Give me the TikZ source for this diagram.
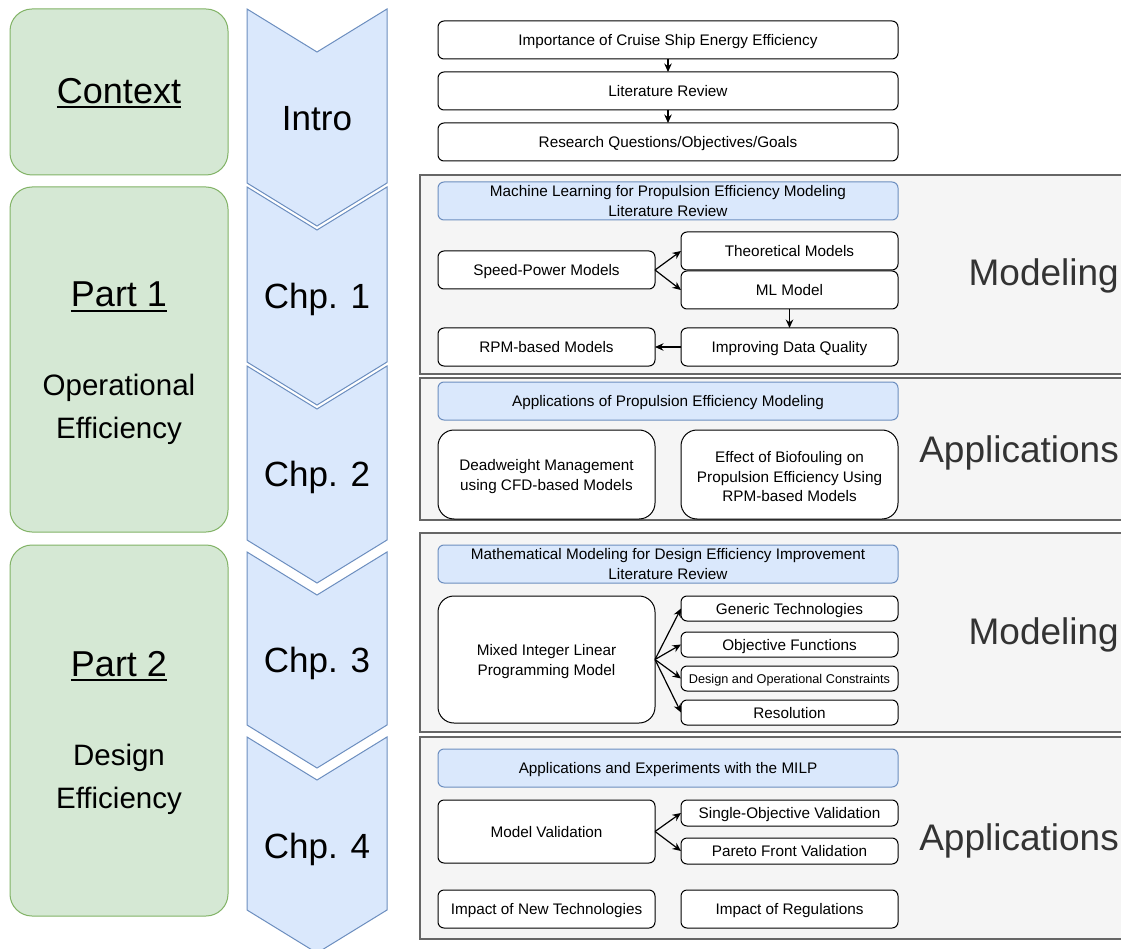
\documentclass[tikz,border=0pt]{standalone}
\usepackage{fontspec}
\setmainfont{Liberation Sans}
\usetikzlibrary{arrows.meta}
\definecolor{gfill}{HTML}{D5E8D4}
\definecolor{gdraw}{HTML}{82B366}
\definecolor{bfill}{HTML}{DAE8FC}
\definecolor{bdraw}{HTML}{6C8EBF}
\definecolor{pfill}{HTML}{F5F5F5}
\definecolor{pdraw}{HTML}{666666}
\definecolor{ltext}{HTML}{333333}
\newcommand{\mkbox}[7]{\node[#1, minimum width={(#4)-(#2)}, minimum height={(#5)-(#3)}] (#6) at ({((#2)+(#4))/2},{((#3)+(#5))/2}) {#7};}
\newcommand{\myul}[1]{\setbox0\hbox{#1}\rlap{\rule[-5pt]{\wd0}{2.2pt}}\box0}
\newcommand{\topstrut}{\rule{0pt}{15.5pt}}
\begin{document}
\begin{tikzpicture}[x=1pt,y=-1pt,
  base/.style={inner sep=0pt, outer sep=0pt, align=center, font=\fontsize{15.3}{19.5}\selectfont},
  one/.style={text height=14.5pt, text depth=3.5pt},
  wbox/.style={base, one, draw=black, fill=white, line width=1pt, rounded corners=6pt},
  rbox/.style={base, draw=black, fill=white, line width=1pt, rounded corners=16pt},
  hbox/.style={base, draw=bdraw, fill=bfill, line width=1pt, rounded corners=6pt},
  panel/.style={base, draw=pdraw, fill=pfill, line width=1.2pt},
  gbox/.style={base, draw=gdraw, fill=gfill, line width=1pt, rounded corners=22pt},
  chev/.style={draw=bdraw, fill=bfill, line width=1pt, line join=miter},
  chtext/.style={inner sep=0pt, font=\fontsize{35}{40}\selectfont},
  bigtext/.style={inner sep=0pt, text=ltext, font=\fontsize{37}{42}\selectfont, anchor=east},
  arr/.style={-{Stealth[length=8.5pt,width=7.5pt]}, line width=1.2pt, black}
]
\useasboundingbox (0,0) rectangle (1121,949);
\clip (0,0) rectangle (1121,949);
\fill[white] (0,0) rectangle (1121,949);

% green boxes
\mkbox{gbox}{10}{9}{228}{175}{ctx}{}
\mkbox{gbox}{10}{187}{228}{532}{pone}{}
\mkbox{gbox}{10}{545}{228}{916}{ptwo}{}
\node[inner sep=0pt, font=\fontsize{36}{40}\selectfont] (ctxt) at (119,93) {\myul{Context}};
\node[inner sep=0pt, font=\fontsize{36}{40}\selectfont] (ponet) at (119,297) {\myul{Part 1}};
\node[inner sep=0pt, align=center, font=\fontsize{29.5}{43}\selectfont] (ponet2) at (119,409) {Operational\\Efficiency};
\node[inner sep=0pt, font=\fontsize{36}{40}\selectfont] (ptwot) at (119,666) {\myul{Part 2}};
\node[inner sep=0pt, align=center, font=\fontsize{29.5}{43}\selectfont] (ptwot2) at (119,779.5) {Design\\Efficiency};

% chevrons
\draw[chev] (247,9) -- (317,52) -- (387,9) -- (387,183) -- (317,226) -- (247,183) -- cycle;
\draw[chev] (247,187) -- (317,230) -- (387,187) -- (387,362) -- (317,405) -- (247,362) -- cycle;
\draw[chev] (247,366) -- (317,409) -- (387,366) -- (387,540) -- (317,583) -- (247,540) -- cycle;
\draw[chev] (247,552) -- (317,595) -- (387,552) -- (387,725) -- (317,768) -- (247,725) -- cycle;
\draw[chev] (247,737) -- (317,780) -- (387,737) -- (387,910) -- (317,953) -- (247,910) -- cycle;
\node[chtext] (intro) at (317,119) {Intro};
\node[chtext] (chone) at (317,299) {Chp. 1};
\node[chtext] (chtwo) at (317,477) {Chp. 2};
\node[chtext] (chthree) at (317,663) {Chp. 3};
\node[chtext] (chfour) at (317,849) {Chp. 4};

% panels
\mkbox{panel}{420}{175}{1135}{374}{pa}{}
\mkbox{panel}{420}{378}{1135}{520}{pb}{}
\mkbox{panel}{420}{533}{1135}{732}{pc}{}
\mkbox{panel}{420}{737}{1135}{939}{pd}{}
\node[bigtext] (mod1) at (1119,276) {Modeling};
\node[bigtext] (app1) at (1119,453) {Applications};
\node[bigtext] (mod2) at (1119,635) {Modeling};
\node[bigtext] (app2) at (1119,841) {Applications};

% intro boxes
\mkbox{wbox}{438}{21}{898}{59}{i1}{Importance of Cruise Ship Energy Efficiency}
\mkbox{wbox}{438}{72}{898}{110}{i2}{Literature Review}
\mkbox{wbox}{438}{123}{898}{161}{i3}{Research Questions/Objectives/Goals}
\draw[arr] (i1.south) -- (i2.north);
\draw[arr] (i2.south) -- (i3.north);

% chapter 1
\mkbox{hbox}{438}{182}{898}{220}{h1}{Machine Learning for Propulsion Efficiency Modeling\\Literature Review}
\mkbox{wbox}{438}{251}{655}{289}{sp}{Speed-Power Models}
\mkbox{wbox}{681}{232}{898}{270}{th}{Theoretical Models}
\mkbox{wbox}{681}{271}{898}{309}{ml}{ML Model}
\mkbox{wbox}{438}{328}{655}{366}{rpm}{RPM-based Models}
\mkbox{wbox}{681}{328}{898}{366}{idq}{Improving Data Quality}
\draw[arr] (sp.east) -- (th.west);
\draw[arr] (sp.east) -- (ml.west);
\draw[arr] (ml.south) -- (idq.north);
\draw[arr] (idq.west) -- (rpm.east);

% chapter 2
\mkbox{hbox, one}{438}{382}{898}{420}{h2}{Applications of Propulsion Efficiency Modeling}
\mkbox{rbox}{438}{430}{655}{519}{dw}{\topstrut Deadweight Management\\using CFD-based Models}
\mkbox{rbox}{681}{430}{898}{519}{bio}{\topstrut Effect of Biofouling on\\Propulsion Efficiency Using\\RPM-based Models}

% chapter 3
\mkbox{hbox}{438}{545}{898}{583}{h3}{Mathematical Modeling for Design Efficiency Improvement\\Literature Review}
\mkbox{rbox}{438}{596}{655}{723}{milp}{\topstrut Mixed Integer Linear\\Programming Model}
\mkbox{wbox}{681}{596}{898}{621}{gt}{Generic Technologies}
\mkbox{wbox}{681}{632}{898}{657}{of}{Objective Functions}
\mkbox{wbox, text height=12pt, text depth=3pt}{681}{666}{898}{691}{doc}{\fontsize{12.7}{15}\selectfont Design and Operational Constraints}
\mkbox{wbox}{681}{700}{898}{725}{res}{Resolution}
\draw[arr] (milp.east) -- (gt.west);
\draw[arr] (milp.east) -- (of.west);
\draw[arr] (milp.east) -- (doc.west);
\draw[arr] (milp.east) -- (res.west);

% chapter 4
\mkbox{hbox, one}{438}{749}{898}{787}{h4}{Applications and Experiments with the MILP}
\mkbox{wbox}{438}{800}{655}{863}{mv}{Model Validation}
\mkbox{wbox}{681}{800}{898}{826}{sov}{Single-Objective Validation}
\mkbox{wbox}{681}{838}{898}{864}{pfv}{Pareto Front Validation}
\mkbox{wbox}{438}{890}{655}{928}{int}{Impact of New Technologies}
\mkbox{wbox}{681}{890}{898}{928}{ir}{Impact of Regulations}
\draw[arr] (mv.east) -- (sov.west);
\draw[arr] (mv.east) -- (pfv.west);
\end{tikzpicture}
\end{document}
